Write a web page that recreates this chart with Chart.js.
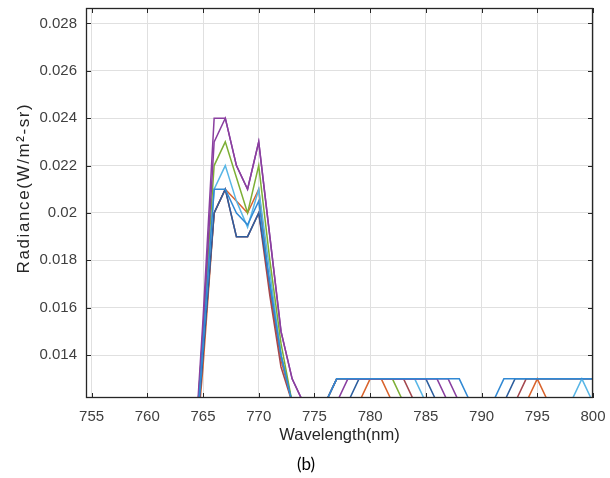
<!DOCTYPE html>
<html>
<head>
<meta charset="utf-8">
<script src="https://cdn.jsdelivr.net/npm/chart.js@4/dist/chart.umd.min.js"></script>
<style>
  html, body { margin: 0; padding: 0; background: #fff; }
  canvas { display: block; }
</style>
</head>
<body>
<canvas id="chart" width="610" height="478"></canvas>
<script>
// Wavelength samples (nm)
const wavelengths = [760, 761, 762, 763, 764, 765, 766, 767, 768, 769,
                     770, 771, 772, 773, 774, 775, 776, 777, 778, 779,
                     780, 781, 782, 783, 784, 785, 786, 787, 788, 789,
                     790, 791, 792, 793, 794, 795, 796, 797, 798, 799, 800];

// Radiance spectra (W/m^2-sr), one list per acquisition
const radianceBlue = [0.009, 0.007, 0.006, 0.007, 0.008, 0.0145, 0.021, 0.021, 0.020, 0.0195,
                      0.0205, 0.017, 0.014, 0.012, 0.012, 0.012, 0.012, 0.013, 0.013, 0.013,
                      0.013, 0.013, 0.013, 0.013, 0.013, 0.013, 0.013, 0.013, 0.013, 0.012,
                      0.012, 0.012, 0.013, 0.013, 0.013, 0.013, 0.013, 0.013, 0.013, 0.013, 0.013];
const radiancePurpleA = [0.009, 0.007, 0.006, 0.007, 0.008, 0.0155, 0.024, 0.024, 0.022, 0.021,
                         0.023, 0.019, 0.015, 0.013, 0.012, 0.012, 0.012, 0.012, 0.013, 0.013,
                         0.013, 0.013, 0.013, 0.013, 0.013, 0.013, 0.013, 0.012, 0.012, 0.012,
                         0.012, 0.012, 0.012, 0.012, 0.012, 0.012, 0.012, 0.012, 0.012, 0.012, 0.012];
const radiancePurpleB = [0.009, 0.007, 0.006, 0.007, 0.008, 0.015, 0.023, 0.024, 0.022, 0.021,
                         0.023, 0.019, 0.015, 0.013, 0.012, 0.012, 0.012, 0.013, 0.013, 0.013,
                         0.013, 0.013, 0.013, 0.013, 0.013, 0.013, 0.013, 0.013, 0.012, 0.012,
                         0.012, 0.012, 0.012, 0.012, 0.012, 0.012, 0.012, 0.012, 0.012, 0.012, 0.012];
const radianceGreen = [0.009, 0.007, 0.006, 0.007, 0.008, 0.015, 0.022, 0.023, 0.0215, 0.020,
                       0.022, 0.018, 0.0145, 0.012, 0.012, 0.012, 0.012, 0.013, 0.013, 0.013,
                       0.013, 0.013, 0.013, 0.012, 0.012, 0.012, 0.012, 0.012, 0.012, 0.012,
                       0.012, 0.012, 0.012, 0.012, 0.012, 0.012, 0.012, 0.012, 0.012, 0.012, 0.012];
const radianceLightBlue = [0.009, 0.007, 0.006, 0.007, 0.008, 0.0145, 0.021, 0.022, 0.0205, 0.0194,
                           0.021, 0.0175, 0.014, 0.012, 0.012, 0.012, 0.012, 0.013, 0.013, 0.013,
                           0.013, 0.013, 0.013, 0.013, 0.013, 0.012, 0.012, 0.012, 0.012, 0.012,
                           0.012, 0.012, 0.012, 0.012, 0.012, 0.012, 0.012, 0.012, 0.012, 0.013, 0.012];
const radianceNavy = [0.009, 0.007, 0.006, 0.007, 0.008, 0.014, 0.020, 0.021, 0.019, 0.019,
                      0.020, 0.017, 0.014, 0.012, 0.012, 0.012, 0.012, 0.012, 0.012, 0.013,
                      0.013, 0.013, 0.013, 0.013, 0.013, 0.013, 0.012, 0.012, 0.012, 0.012,
                      0.012, 0.012, 0.012, 0.013, 0.013, 0.013, 0.013, 0.013, 0.013, 0.013, 0.013];
const radianceOrange = [0.009, 0.007, 0.006, 0.007, 0.008, 0.0135, 0.020, 0.021, 0.0205, 0.020,
                        0.021, 0.0167, 0.0138, 0.012, 0.012, 0.012, 0.012, 0.012, 0.012, 0.012,
                        0.013, 0.013, 0.012, 0.012, 0.012, 0.012, 0.012, 0.012, 0.012, 0.012,
                        0.012, 0.012, 0.012, 0.012, 0.012, 0.013, 0.012, 0.012, 0.012, 0.012, 0.012];
const radianceDarkRed = [0.009, 0.007, 0.006, 0.007, 0.008, 0.014, 0.020, 0.021, 0.019, 0.019,
                         0.020, 0.0165, 0.0135, 0.012, 0.012, 0.012, 0.012, 0.013, 0.013, 0.013,
                         0.013, 0.013, 0.013, 0.013, 0.012, 0.012, 0.012, 0.012, 0.012, 0.012,
                         0.012, 0.012, 0.012, 0.012, 0.013, 0.013, 0.013, 0.013, 0.013, 0.013, 0.013];

// Axis ticks and labels
const xTicks = [755, 760, 765, 770, 775, 780, 785, 790, 795, 800];
const yTicks = [0.014, 0.016, 0.018, 0.02, 0.022, 0.024, 0.026, 0.028];
const yTickLabels = ['0.014', '0.016', '0.018', '0.02', '0.022', '0.024', '0.026', '0.028'];
const xTitle = 'Wavelength(nm)';
const yTitle = 'Radiance(W/m\u00B2-sr)';
const caption = '(b)';

// Series drawn first in the list end up on top
const series = [
  { values: radianceBlue, color: '#3189D4' },
  { values: radiancePurpleA, color: '#8A3FA0' },
  { values: radiancePurpleB, color: '#8A3FA0' },
  { values: radianceGreen, color: '#7DAF35' },
  { values: radianceLightBlue, color: '#58B6E6' },
  { values: radianceNavy, color: '#2C5E9E' },
  { values: radianceDarkRed, color: '#A4474E' },
  { values: radianceOrange, color: '#D9632C' }
];

const datasets = series.map(s => ({
  data: wavelengths.map((w, i) => ({ x: w, y: s.values[i] })),
  borderColor: s.color,
  borderWidth: 1.5,
  pointRadius: 0,
  tension: 0,
  fill: false
}));

const fontFamily = "'Liberation Sans', Arial, sans-serif";
const tickFont = { family: fontFamily, size: 15 };
const titleFont = { family: fontFamily, size: 16.5 };

// Box around the axes, inward tick marks, y-axis label and the panel caption
const axesFrame = {
  id: 'axesFrame',
  afterDraw(chart) {
    const { ctx, chartArea: a, scales: { x, y } } = chart;
    ctx.save();
    ctx.strokeStyle = '#262626';
    ctx.lineWidth = 1;
    ctx.beginPath();
    x.ticks.forEach(t => {
      const px = Math.round(x.getPixelForValue(t.value)) + 0.5;
      ctx.moveTo(px, a.bottom); ctx.lineTo(px, a.bottom - 5);
      ctx.moveTo(px, a.top); ctx.lineTo(px, a.top + 5);
    });
    y.ticks.forEach(t => {
      const py = Math.round(y.getPixelForValue(t.value)) + 0.5;
      ctx.moveTo(a.left, py); ctx.lineTo(a.left + 5, py);
      ctx.moveTo(a.right, py); ctx.lineTo(a.right - 5, py);
    });
    ctx.stroke();
    ctx.lineWidth = 1.3;
    ctx.strokeRect(a.left + 0.5, a.top + 0.5, a.right - a.left - 1, a.bottom - a.top - 1);

    // y-axis label, rotated
    ctx.save();
    ctx.translate(24, 188);
    ctx.rotate(-Math.PI / 2);
    ctx.fillStyle = '#262626';
    ctx.font = '17px ' + fontFamily;
    ctx.letterSpacing = '1.6px';
    ctx.textAlign = 'center';
    ctx.textBaseline = 'middle';
    ctx.fillText(yTitle, 0, 0);
    ctx.restore();

    ctx.fillStyle = '#000';
    ctx.font = "17px Lato, 'Open Sans', sans-serif";
    ctx.textAlign = 'center';
    ctx.textBaseline = 'middle';
    ctx.fillText(caption, 306, 465);
    ctx.restore();
  }
};

new Chart(document.getElementById('chart'), {
  type: 'line',
  data: { datasets },
  plugins: [axesFrame],
  options: {
    responsive: false,
    animation: false,
    layout: { padding: { top: 8, right: 17, left: 0, bottom: 0 } },
    plugins: { legend: { display: false }, tooltip: { enabled: false } },
    scales: {
      x: {
        type: 'linear',
        min: 754.5,
        max: 800,
        afterFit(scale) { scale.height = 80; scale.paddingLeft = 0; scale.paddingRight = 0; },
        afterBuildTicks(scale) { scale.ticks = xTicks.map(v => ({ value: v })); },
        grid: { color: '#e0e0e0', lineWidth: 1, drawTicks: false },
        border: { display: false },
        ticks: { font: tickFont, color: '#404040', padding: 10, maxRotation: 0, autoSkip: false,
                 callback: v => String(v) },
        title: { display: true, text: xTitle, font: titleFont, color: '#262626',
                 padding: { top: 0, bottom: 33 } }
      },
      y: {
        type: 'linear',
        min: 0.01219,
        max: 0.02865,
        afterFit(scale) { scale.width = 86; scale.paddingTop = 0; scale.paddingBottom = 0; },
        afterBuildTicks(scale) { scale.ticks = yTicks.map(v => ({ value: v })); },
        grid: { color: '#e0e0e0', lineWidth: 1, drawTicks: false },
        border: { display: false },
        ticks: { font: tickFont, color: '#404040', padding: 9, autoSkip: false,
                 callback: v => yTickLabels[yTicks.findIndex(t => Math.abs(t - v) < 1e-9)] },
        title: { display: false }
      }
    }
  }
});
</script>
</body>
</html>
